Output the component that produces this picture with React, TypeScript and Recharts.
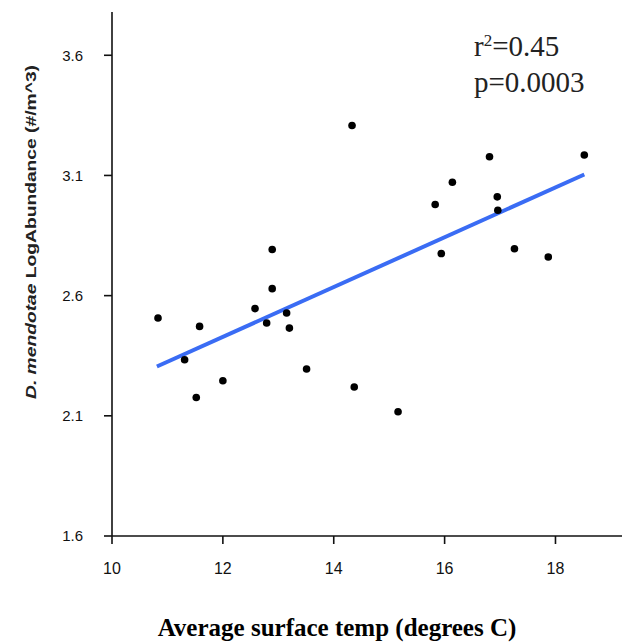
import {
  ScatterChart,
  Scatter,
  XAxis,
  YAxis,
  ReferenceLine,
  ReferenceDot,
} from 'recharts';

// surface temperature (deg C) and log abundance for each sample
const tempC = [
  10.83, 11.31, 11.58, 11.52, 12.0, 12.58, 12.79, 12.89, 12.89, 13.15, 13.2, 13.51,
  14.33, 14.37, 15.16, 15.83, 15.94, 16.14, 16.81, 16.95, 16.96, 17.26, 17.87, 18.52,
];
const logAbund = [
  2.507, 2.333, 2.472, 2.176, 2.246, 2.546, 2.486, 2.792, 2.629, 2.528, 2.465, 2.295,
  3.308, 2.22, 2.117, 2.979, 2.775, 3.072, 3.178, 3.011, 2.955, 2.795, 2.761, 3.185,
];
// fitted regression line end points
const fitX = [10.81, 18.52];
const fitY = [2.305, 3.104];

const xTicks = [10, 12, 14, 16, 18];
const yTicks = [1.6, 2.1, 2.6, 3.1, 3.6];

const statsLines = ['r2=0.45', 'p=0.0003'];
const statsX = 16.53;
const statsY = [3.596, 3.446];

const points = tempC.map((t, i) => ({ x: t, y: logAbund[i] }));

const sans = '"Liberation Sans", Arial, sans-serif';
const serif = '"Liberation Serif", "Times New Roman", serif';

const Dot = (props: any) => <circle cx={props.cx} cy={props.cy} r={3.8} fill="#000" />;

const YLabel = (props: any) => {
  const vb = props.viewBox;
  const cx = vb.x + 31;
  const cy = 232;
  return (
    <text
      x={cx}
      y={cy}
      transform={`rotate(-90 ${cx} ${cy})`}
      textAnchor="middle"
      dominantBaseline="central"
      fontFamily={sans}
      fontWeight="bold"
      fontSize={14}
      fill="#222"
      textLength={334}
      lengthAdjust="spacingAndGlyphs"
    >
      <tspan fontStyle="italic">D. mendotae</tspan>
      <tspan>{'  LogAbundance (#/m^3)'}</tspan>
    </text>
  );
};

const XLabel = (props: any) => {
  const vb = props.viewBox;
  return (
    <text
      x={vb.x + vb.width / 2 - 30}
      y={vb.y + 100}
      textAnchor="middle"
      fontFamily={serif}
      fontWeight="bold"
      fontSize={25}
      fill="#000"
    >
      Average surface temp (degrees C)
    </text>
  );
};

const StatText = (idx: number) => (props: any) => {
  const txt = statsLines[idx];
  if (idx === 0) {
    return (
      <text x={props.cx} y={props.cy} fontFamily={serif} fontSize={29} fill="#222">
        <tspan>r</tspan>
        <tspan dy={-10} fontSize={17}>2</tspan>
        <tspan dy={10}>{txt.slice(2)}</tspan>
      </text>
    );
  }
  return (
    <text x={props.cx} y={props.cy} fontFamily={serif} fontSize={29} fill="#222">
      {txt}
    </text>
  );
};

export default function App() {
  return (
    <div style={{ position: 'absolute', left: 0, top: 0, background: '#fff' }}>
      <ScatterChart width={624} height={644} margin={{ top: 12, right: 2, bottom: 0, left: 0 }}>
        <XAxis
          type="number"
          dataKey="x"
          domain={[10, 19.2]}
          ticks={xTicks}
          allowDataOverflow
          height={108}
          stroke="#111"
          strokeWidth={1.6}
          tickSize={8}
          tickMargin={19}
          tick={{ fill: '#111', fontFamily: sans, fontSize: 16 }}
          label={<XLabel />}
        />
        <YAxis
          type="number"
          dataKey="y"
          domain={[1.6, 3.78]}
          ticks={yTicks}
          allowDataOverflow
          width={112}
          stroke="#111"
          strokeWidth={1.6}
          tickSize={8}
          tickMargin={21}
          tickFormatter={(v: number) => v.toFixed(1)}
          tick={{ fill: '#111', fontFamily: sans, fontSize: 15 }}
          label={<YLabel />}
        />
        <ReferenceLine
          segment={[
            { x: fitX[0], y: fitY[0] },
            { x: fitX[1], y: fitY[1] },
          ]}
          stroke="#3a6cf4"
          strokeWidth={4}
        />
        <Scatter data={points} fill="#000" shape={<Dot />} isAnimationActive={false} />
        {statsY.map((sy, i) => (
          <ReferenceDot key={i} x={statsX} y={sy} r={0} shape={StatText(i)} />
        ))}
      </ScatterChart>
    </div>
  );
}
